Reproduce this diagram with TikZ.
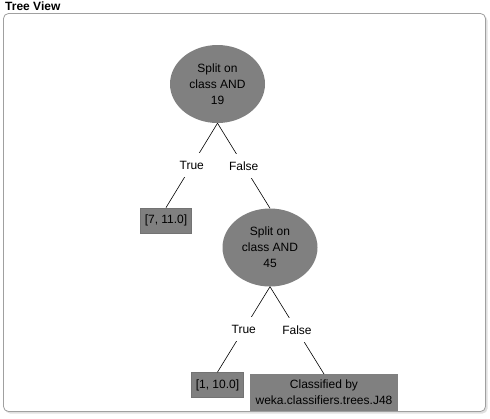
\documentclass[tikz,border=0pt]{standalone}
\usepackage{fontspec}
\setmainfont{Liberation Sans}
\usetikzlibrary{shapes.geometric}
\definecolor{nodegray}{HTML}{808080}
\definecolor{panelline}{HTML}{A0A0A0}
\begin{document}
\begin{tikzpicture}[x=1pt,y=-1pt,
  every node/.style={font=\fontsize{12}{16}\selectfont, inner sep=0pt},
  split/.style={ellipse, fill=nodegray, minimum width=95pt, minimum height=78pt, align=center},
  leafbox/.style={rectangle, fill=nodegray, draw=black!55, line width=0.8pt, minimum height=25pt, inner xsep=4pt},
  bigleaf/.style={rectangle, fill=nodegray, minimum width=148pt, minimum height=37pt, align=center},
  lbl/.style={fill=white, inner xsep=1pt, minimum height=24pt},
  edge/.style={draw=black, line width=0.6pt}]
\useasboundingbox (0,0) rectangle (490,418);
% panel
\fill[black!12, rounded corners=5pt] (5,15.5) rectangle (487.5,413.5);
\fill[white, draw=panelline, line width=0.8pt, rounded corners=5pt] (3.5,13.5) rectangle (485.5,411.5);
\node[anchor=west, font=\bfseries\fontsize{12}{14}\selectfont] (title) at (5,6) {Tree View};
% nodes
\node[split] (r) at (217.5,84) {Split on\\class AND\\19};
\node[leafbox] (l1) at (166,220.5) {[7, 11.0]};
\node[split] (s2) at (270,247.5) {Split on\\class AND\\45};
\node[leafbox] (l2) at (217.5,385) {[1, 10.0]};
\begin{scope}
\clip (3.5,13.5) rectangle (485.5,411.3);
\node[bigleaf, anchor=north] (l3) at (324,374) {Classified by\\weka.classifiers.trees.J48};
\end{scope}
% edges with labels in the middle
\draw[edge] (r.south) -- (l1.north) node[midway, lbl] (t1) {True};
\draw[edge] (r.south) -- (s2.north) node[midway, lbl] (f1) {False};
\draw[edge] (s2.south) -- (l2.north) node[midway, lbl] (t2) {True};
\draw[edge] (s2.south) -- (l3.north) node[midway, lbl] (f2) {False};
\end{tikzpicture}
\end{document}
